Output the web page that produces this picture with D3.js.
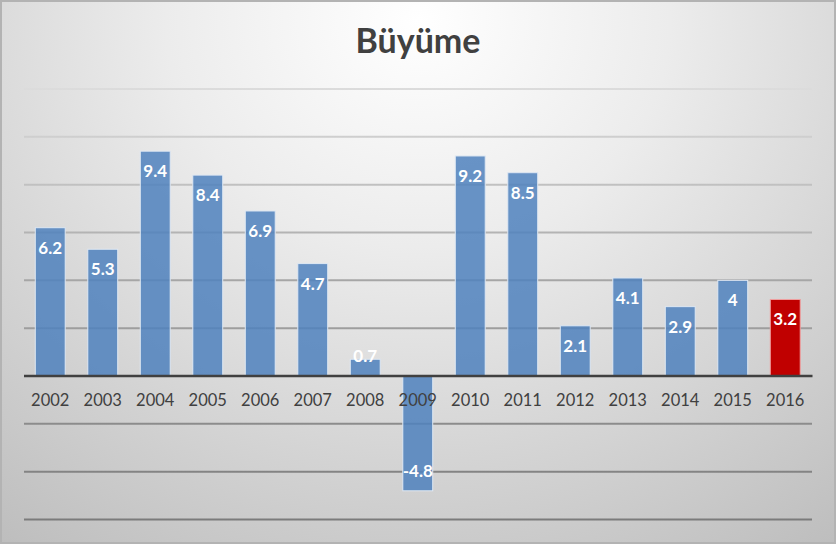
<!DOCTYPE html>
<html><head><meta charset="utf-8">
<script src="https://cdn.jsdelivr.net/npm/d3@7"></script>
<style>html,body{margin:0;padding:0;background:#fff;}svg{display:block;}</style>
</head><body>
<svg id="chart" width="836" height="544"></svg>
<script>
const title = "Büyüme";
const years = ["2002","2003","2004","2005","2006","2007","2008","2009","2010","2011","2012","2013","2014","2015","2016"];
const growth = [6.2, 5.3, 9.4, 8.4, 6.9, 4.7, 0.7, -4.8, 9.2, 8.5, 2.1, 4.1, 2.9, 4, 3.2];
const highlightYear = "2016";
const yTicks = [-6, -4, -2, 0, 2, 4, 6, 8, 10, 12];

const W = 836, H = 544;
const svg = d3.select("#chart");
const defs = svg.append("defs");

const bg = defs.append("radialGradient").attr("id","bg")
  .attr("gradientUnits","userSpaceOnUse").attr("cx",418).attr("cy",20).attr("r",720)
  .attr("gradientTransform","translate(418,20) scale(1,0.9) translate(-418,-20)");
bg.append("stop").attr("offset","0").attr("stop-color","#ffffff");
bg.append("stop").attr("offset","0.35").attr("stop-color","#ececec");
bg.append("stop").attr("offset","1").attr("stop-color","#bdbdbd");

const gg = defs.append("linearGradient").attr("id","grid")
  .attr("gradientUnits","userSpaceOnUse").attr("x1",0).attr("y1",80).attr("x2",0).attr("y2",525);
gg.append("stop").attr("offset","0").attr("stop-color","#dedede");
gg.append("stop").attr("offset","0.45").attr("stop-color","#a6a6a6");
gg.append("stop").attr("offset","1").attr("stop-color","#7a7a7a");

svg.append("rect").attr("x",0).attr("y",0).attr("width",W).attr("height",H).attr("fill","url(#bg)");
svg.append("rect").attr("x",1).attr("y",1).attr("width",W-2).attr("height",H-2)
  .attr("fill","none").attr("stroke","#b3b3b3").attr("stroke-width",2);

const x = d3.scaleBand().domain(years).range([24, 811.5]).paddingInner(0.43).paddingOuter(0.215);
const y = d3.scaleLinear().domain([-6, 12]).range([519.5, 89]);

// gridlines
svg.append("g").selectAll("line").data(yTicks.filter(t => t !== 0)).join("line")
  .attr("x1",24).attr("x2",812).attr("y1",d=>y(d)).attr("y2",d=>y(d))
  .attr("stroke","url(#grid)").attr("stroke-width",2);

// bars
svg.append("g").selectAll("rect").data(years.map((yr,i)=>({yr, v:growth[i]}))).join("rect")
  .attr("x",d=>x(d.yr)).attr("width",x.bandwidth())
  .attr("y",d=>y(Math.max(0,d.v))).attr("height",d=>Math.abs(y(d.v)-y(0)))
  .attr("fill",d=>d.yr===highlightYear?"#c00000":"#4f81bd")
  .attr("fill-opacity",d=>d.yr===highlightYear?1:0.85)
  .attr("stroke",d=>d.yr===highlightYear?"#f0a0a0":"#dfe8f3").attr("stroke-width",1);

// zero axis line
svg.append("line").attr("x1",24).attr("x2",812.5).attr("y1",y(0)).attr("y2",y(0))
  .attr("stroke","#404040").attr("stroke-width",2.5);

// category axis labels
const xAxis = d3.axisBottom(x).tickSize(0).tickPadding(0);
const ax = svg.append("g").attr("transform",`translate(0,${y(0)})`).call(xAxis);
ax.select(".domain").remove();
ax.selectAll("text").attr("y",30).attr("dy",0)
  .attr("font-family","Lato, 'Open Sans', sans-serif").attr("font-size",16.5).attr("fill","#404040");

// value labels
svg.append("g").selectAll("text").data(years.map((yr,i)=>({yr, v:growth[i]}))).join("text")
  .attr("x",d=>x(d.yr)+x.bandwidth()/2)
  .attr("y",d=> d.v>=0 ? Math.min(y(d.v)+26, y(0)-14) : Math.max(y(d.v)-14, y(0)+26))
  .attr("text-anchor","middle").attr("font-family","Lato, 'Open Sans', sans-serif")
  .attr("font-weight","bold").attr("font-size",17).attr("fill","#ffffff")
  .text(d=>String(d.v));

// title
svg.append("text").attr("x",418).attr("y",53).attr("text-anchor","middle")
  .attr("font-family","Lato, 'Open Sans', sans-serif").attr("font-weight","bold")
  .attr("font-size",34).attr("fill","#404040").text(title);
</script>
</body></html>
